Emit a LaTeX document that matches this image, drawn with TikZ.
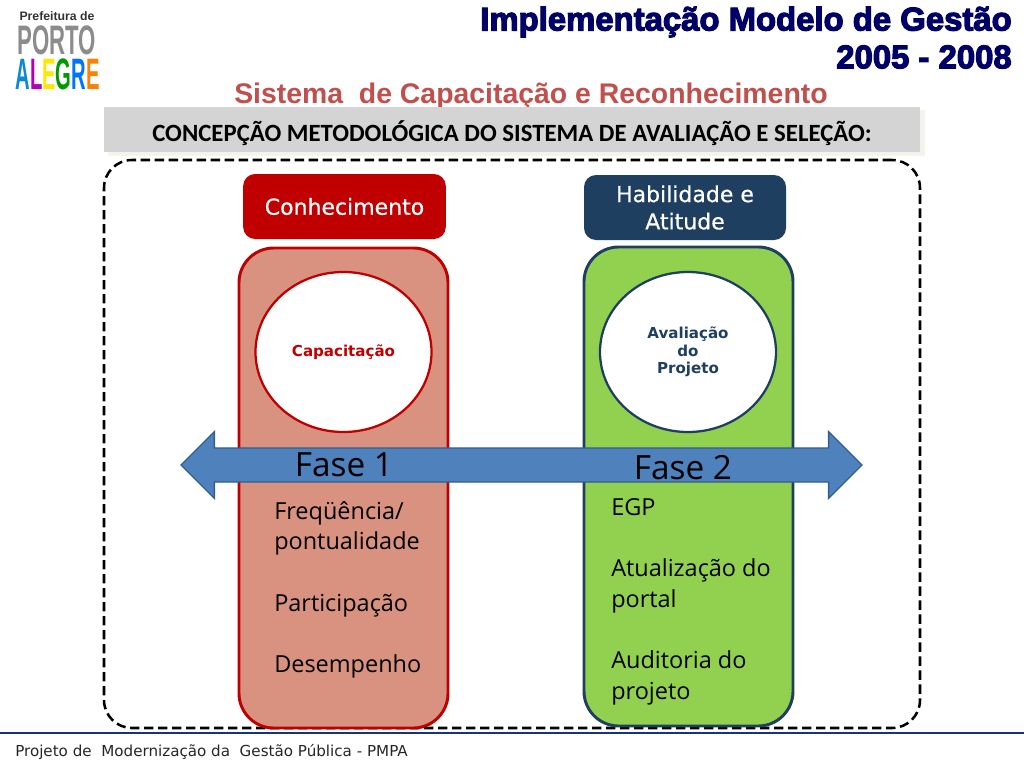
\documentclass[tikz,border=0pt]{standalone}
\usepackage{graphicx}
\usepackage{fontspec}
\setmainfont{Liberation Sans}
\newfontfamily\headfont[FakeBold=3.5]{Liberation Sans Bold}
\newfontfamily\plainfont{DejaVu Sans}
\newfontfamily\heavyfont[FakeBold=0.5]{DejaVu Sans}
\newfontfamily\bodyfont{Open Sans}
\newfontfamily\barfont{Carlito}
\usetikzlibrary{shapes.geometric,shapes.arrows}

\definecolor{navy}{HTML}{000066}
\definecolor{titlered}{HTML}{C0504D}
\definecolor{darkred}{HTML}{C00000}
\definecolor{darkblue}{HTML}{1F3F60}
\definecolor{salmon}{HTML}{D99280}
\definecolor{leaf}{HTML}{92D050}
\definecolor{arrowblue}{HTML}{4F81BD}
\definecolor{arrowline}{HTML}{2F5F8F}

\tikzset{
	box/.style={shape=rectangle,inner sep=0pt,outer sep=0pt},
	head/.style={box,align=center,text=white,font=\heavyfont\fontsize{16.5}{20.5}\selectfont,rounded corners=9pt},
	panel/.style={box,line width=2.2pt,rounded corners=26pt},
	round/.style={shape=ellipse,inner sep=0pt,outer sep=0pt,fill=white,line width=1.7pt,minimum width=132pt,minimum height=120pt,align=center},
	listing/.style={anchor=north west,align=left,inner sep=0pt,text=black,font=\bodyfont\fontsize{17.6}{23}\selectfont},
	phase/.style={inner sep=0pt,text=black,font=\bodyfont\fontsize{25}{28}\selectfont},
	logo/.style={inner sep=0pt,font=\bfseries}
}

\begin{document}
\begin{tikzpicture}[x=0.75pt,y=-0.75pt]
	
	\useasboundingbox (0,0) rectangle (1024,768);
	
	% logo
	\node[logo,text=black!80,font=\bfseries\fontsize{9.2}{11}\selectfont] (city) at (57,16) {Prefeitura de};
	\node[logo,text=black!45] (porto) at (56.5,40) {\scalebox{0.555}[1.03]{\fontsize{30}{30}\selectfont PORTO}};
	\node[logo] (alegre) at (57.5,74) {\scalebox{0.505}[1.1]{\fontsize{30}{30}\selectfont\textcolor{cyan!70!blue}{A}\textcolor{violet!60!magenta}{L}\textcolor{yellow!90!orange}{E}\textcolor{green!60!black}{G}\textcolor{blue!55!cyan}{R}\textcolor{orange}{E}}};
	
	% titles
	\node[anchor=east,inner sep=0pt,text=navy,font=\headfont\fontsize{24.65}{28}\selectfont] (title) at (1012,22) {Implementação Modelo de Gestão};
	\node[anchor=east,inner sep=0pt,text=navy,font=\headfont\fontsize{24.65}{28}\selectfont] (years) at (1012,57) {2005 - 2008};
	\node[inner sep=0pt,text=titlered,font=\bfseries\fontsize{21.3}{24}\selectfont] (system) at (531,96.5) {Sistema\ \ de Capacitação e Reconhecimento};
	
	% grey bar
	\node[box,fill=black!5,draw=black!15!yellow!15!white,minimum width=612pt,minimum height=33.75pt] (barback) at (516,132.5) {};
	\node[box,fill=black!17,minimum width=612pt,minimum height=33.75pt] (bar) at (512,129.5) {};
	\node[inner sep=0pt,text=black,font=\barfont\bfseries\fontsize{18.6}{20}\selectfont] (barlabel) at (512,133) {CONCEPÇÃO METODOLÓGICA DO SISTEMA DE AVALIAÇÃO E SELEÇÃO:};
	
	% frame and columns
	\node[box,draw=black,dashed,line width=1.9pt,rounded corners=21pt,dash pattern=on 7pt off 3.5pt,minimum width=612pt,minimum height=426pt] (frame) at (512,444) {};
	
	\node[head,fill=darkred,minimum width=152pt,minimum height=48.75pt] (know) at (344.5,206.5) {Conhecimento};
	\node[head,fill=darkblue,minimum width=151.5pt,minimum height=48.75pt] (skill) at (685,207.5) {Habilidade e\\Atitude};
	
	\node[panel,draw=darkred,fill=salmon,minimum width=156.75pt,minimum height=360pt] (left) at (343.5,488) {};
	\node[panel,draw=darkblue,fill=leaf,minimum width=156.75pt,minimum height=359.25pt] (right) at (688.5,486.5) {};
	
	\node[round,draw=darkred,text=darkred,font=\plainfont\bfseries\fontsize{11.3}{13.2}\selectfont] (training) at (343.5,352) {Capacitação};
	\node[round,draw=darkblue,text=darkblue,font=\plainfont\bfseries\fontsize{11.3}{13.2}\selectfont] (review) at (688,352) {Avaliação\\do\\Projeto};
	
	\node[listing] (leftlist) at (274,501) {Freqüência/\\pontualidade\\[23pt]Participação\\[23pt]Desempenho};
	\node[listing] (rightlist) at (611,498) {EGP\\[23pt]Atualização do\\portal\\[23pt]Auditoria do\\projeto};
	
	% phase arrow
	\node[shape=double arrow,inner sep=0pt,outer sep=0pt,fill=arrowblue,draw=arrowline,line width=1pt,double arrow head extend=12.3pt,double arrow head indent=0pt,minimum height=510.75pt] (phases) at (521.5,465) {\rule{0pt}{24.5pt}};
	\node[phase] (one) at (344,465) {Fase 1};
	\node[phase] (two) at (683,468) {Fase 2};
	
	% footer
	\coordinate (footl) at (0,733);
	\coordinate (footr) at (1024,733);
	\draw[line width=1pt,draw=darkblue!80!blue] (footl) -- (footr);
	\node[anchor=west,inner sep=0pt,text=black!85,font=\plainfont\fontsize{11.35}{13}\selectfont] (footer) at (15,752) {Projeto de\ \ Modernização da\ \ Gestão Pública - PMPA};
	
\end{tikzpicture}
\end{document}
